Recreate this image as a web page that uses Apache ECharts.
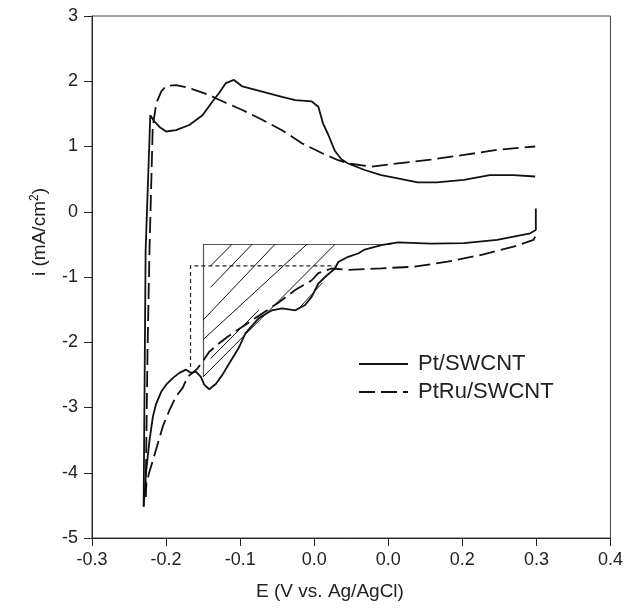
<!DOCTYPE html>
<html>
<head>
<meta charset="utf-8">
<script src="https://cdn.jsdelivr.net/npm/echarts/dist/echarts.min.js"></script>
<style>
html,body{margin:0;padding:0;background:#fff;}
#cv{width:626px;height:613px;}
</style>
</head>
<body>
<div id="cv"></div>
<script>
// tick labels as printed on the original (0.1 is labelled 0.0)
var xTickLabels = ['-0.3', '-0.2', '-0.1', '0.0', '0.0', '0.2', '0.3', '0.4'];
var xMin = -0.3, xMax = 0.4, xStep = 0.1;

// Pt/SWCNT, forward (upper) branch
var ptAnodic = [
    [-0.2303, -4.52], [-0.2276, -0.59], [-0.2213, 1.48], [-0.2156, 1.38], [-0.2088, 1.30],
    [-0.1999, 1.23], [-0.1865, 1.25], [-0.1686, 1.33], [-0.1508, 1.48], [-0.1373, 1.69],
    [-0.1284, 1.82], [-0.1195, 1.97], [-0.1083, 2.02], [-0.0970, 1.92], [-0.0703, 1.84],
    [-0.0435, 1.76], [-0.0256, 1.71], [-0.0033, 1.69], [0.0056, 1.61], [0.0120, 1.35],
    [0.0190, 1.18], [0.0280, 0.93], [0.0370, 0.80], [0.0458, 0.74], [0.0682, 0.64],
    [0.0905, 0.56], [0.1129, 0.51], [0.1397, 0.45], [0.1656, 0.45], [0.2022, 0.49],
    [0.2370, 0.56], [0.2690, 0.56], [0.2983, 0.54]
];
// Pt/SWCNT, reverse (lower) branch
var ptCathodic = [
    [0.2992, 0.05], [0.2992, -0.28], [0.2916, -0.33], [0.2692, -0.38], [0.2469, -0.43],
    [0.2022, -0.48], [0.1575, -0.49], [0.1129, -0.47], [0.0905, -0.51], [0.0682, -0.58],
    [0.0592, -0.64], [0.0458, -0.69], [0.0325, -0.77], [0.0280, -0.87], [0.0146, -1.00],
    [0.0056, -1.10], [-0.0033, -1.30], [-0.0123, -1.43], [-0.0256, -1.51], [-0.0435, -1.48],
    [-0.0570, -1.51], [-0.0748, -1.63], [-0.0927, -1.86], [-0.1016, -2.08], [-0.1150, -2.33],
    [-0.1240, -2.50], [-0.1329, -2.64], [-0.1418, -2.72], [-0.1485, -2.65], [-0.1530, -2.53],
    [-0.1597, -2.45], [-0.1664, -2.47], [-0.1731, -2.42], [-0.1821, -2.47], [-0.1910, -2.55],
    [-0.1999, -2.65], [-0.2066, -2.76], [-0.2133, -2.94], [-0.2178, -3.14], [-0.2223, -3.50],
    [-0.2267, -3.96], [-0.2303, -4.52]
];
// PtRu/SWCNT, forward (upper) branch
var ptruAnodic = [
    [-0.2276, -4.37], [-0.2250, -2.12], [-0.2224, -0.59], [-0.2180, 1.30], [-0.2133, 1.66],
    [-0.2066, 1.84], [-0.1999, 1.93], [-0.1865, 1.94], [-0.1731, 1.91], [-0.1597, 1.86],
    [-0.1418, 1.79], [-0.1329, 1.74], [-0.1195, 1.67], [-0.0971, 1.56], [-0.0703, 1.41],
    [-0.0435, 1.25], [-0.0167, 1.05], [0.0101, 0.90], [0.0324, 0.79], [0.0458, 0.74],
    [0.0771, 0.69], [0.1129, 0.74], [0.1575, 0.80], [0.2022, 0.87], [0.2470, 0.95],
    [0.2983, 1.00]
];
// PtRu/SWCNT, reverse (lower) branch
var ptruCathodic = [
    [0.2983, -0.38], [0.2961, -0.43], [0.2692, -0.535], [0.2246, -0.663], [0.1799, -0.765],
    [0.1352, -0.842], [0.0905, -0.867], [0.0458, -0.89], [0.0235, -0.87], [0.0056, -0.94],
    [-0.0033, -1.05], [-0.0257, -1.20], [-0.0480, -1.39], [-0.0703, -1.56], [-0.0927, -1.73],
    [-0.1150, -1.90], [-0.1300, -2.03], [-0.1420, -2.15], [-0.1485, -2.26], [-0.1575, -2.40],
    [-0.1642, -2.47], [-0.1709, -2.53], [-0.1776, -2.70], [-0.1865, -2.83], [-0.1954, -3.04],
    [-0.2044, -3.29], [-0.2111, -3.55], [-0.2178, -3.81], [-0.2231, -4.01], [-0.2267, -4.19],
    [-0.2276, -4.37]
];

// integration areas drawn on the figure
var ptBoxLines = [
    [[-0.15, -0.5], [0.104, -0.5]],
    [[-0.15, -0.5], [-0.15, -2.53]]
];
var ptruBoxLine = [[-0.167, -2.38], [-0.167, -0.83], [0.028, -0.83]];
var hatchLines = [
    [[-0.140, -0.83], [-0.111, -0.50]],
    [[-0.140, -1.16], [-0.084, -0.50]],
    [[-0.150, -1.66], [-0.053, -0.50]],
    [[-0.150, -1.96], [-0.010, -0.50]],
    [[-0.140, -2.25], [-0.075, -1.51]],
    [[-0.150, -2.53], [0.028, -0.50]],
    [[-0.023, -1.51], [0.011, -1.09]]
];

var font = 'Liberation Sans, Arial, sans-serif';
var chart = echarts.init(document.getElementById('cv'));

function curve(name, data, dashed) {
    return {
        name: name,
        type: 'line',
        data: data,
        symbol: 'none',
        smooth: false,
        lineStyle: {color: '#111', width: 1.8, type: dashed ? [16, 6] : 'solid'},
        itemStyle: {color: '#111'},
        z: 3
    };
}

var option = {
    animation: false,
    backgroundColor: '#fff',
    grid: {left: 92, right: 12, top: 16, bottom: 75, containLabel: false,
        show: true, borderColor: '#444', borderWidth: 1},
    xAxis: {
        type: 'value', min: xMin, max: xMax, interval: xStep,
        axisLine: {show: true, onZero: false, lineStyle: {color: '#222', width: 1}},
        axisTick: {show: true, length: 8, lineStyle: {color: '#222'}},
        splitLine: {show: false},
        axisLabel: {
            margin: 13, color: '#222', fontSize: 18, fontFamily: font,
            formatter: function (v) {
                return xTickLabels[Math.round((v - xMin) / xStep)];
            }
        }
    },
    yAxis: {
        type: 'value', min: -5, max: 3, interval: 1,
        axisLine: {show: true, onZero: false, lineStyle: {color: '#222', width: 1}},
        axisTick: {show: true, length: 8, lineStyle: {color: '#222'}},
        splitLine: {show: false},
        axisLabel: {margin: 14, color: '#222', fontSize: 18, fontFamily: font}
    },
    legend: {
        data: ['Pt/SWCNT', 'PtRu/SWCNT'],
        orient: 'vertical',
        left: 353, top: 347,
        itemWidth: 49, itemHeight: 14, itemGap: 4,
        itemStyle: {opacity: 0},
        textStyle: {fontSize: 22, fontFamily: font, color: '#222', lineHeight: 24, padding: [0, 0, 0, 5]}
    },
    graphic: [
        {type: 'text', x: 330, y: 592,
            style: {text: 'E (V vs. Ag/AgCl)', font: '19px ' + font, fill: '#222',
                align: 'center', verticalAlign: 'middle'}},
        {type: 'text', x: 40, y: 232, rotation: Math.PI / 2,
            style: {text: '{a|i (mA/cm}{b|2}{a|)}', fill: '#222', align: 'center', verticalAlign: 'middle',
                rich: {
                    a: {fontSize: 19, fontFamily: font, fill: '#222', lineHeight: 22},
                    b: {fontSize: 12, fontFamily: font, fill: '#222', lineHeight: 22, verticalAlign: 'top', padding: [0, 0, 9, 0]}
                }}}
    ],
    series: [
        curve('Pt/SWCNT', ptAnodic, false),
        curve('Pt/SWCNT', ptCathodic, false),
        curve('PtRu/SWCNT', ptruAnodic, true),
        curve('PtRu/SWCNT', ptruCathodic, true),
        {
            type: 'lines', coordinateSystem: 'cartesian2d', polyline: false,
            data: ptBoxLines.map(function (c) { return {coords: c}; }),
            lineStyle: {color: '#555', width: 1.2, opacity: 1}, z: 2, silent: true
        },
        {
            type: 'lines', coordinateSystem: 'cartesian2d', polyline: false,
            data: hatchLines.map(function (c) { return {coords: c}; }),
            lineStyle: {color: '#111', width: 1, opacity: 1}, z: 2, silent: true
        },
        {
            type: 'lines', coordinateSystem: 'cartesian2d', polyline: true,
            data: [{coords: ptruBoxLine}],
            lineStyle: {color: '#222', width: 1.2, type: [4, 3], opacity: 1}, z: 2, silent: true
        }
    ]
};
chart.setOption(option);
</script>
</body>
</html>
